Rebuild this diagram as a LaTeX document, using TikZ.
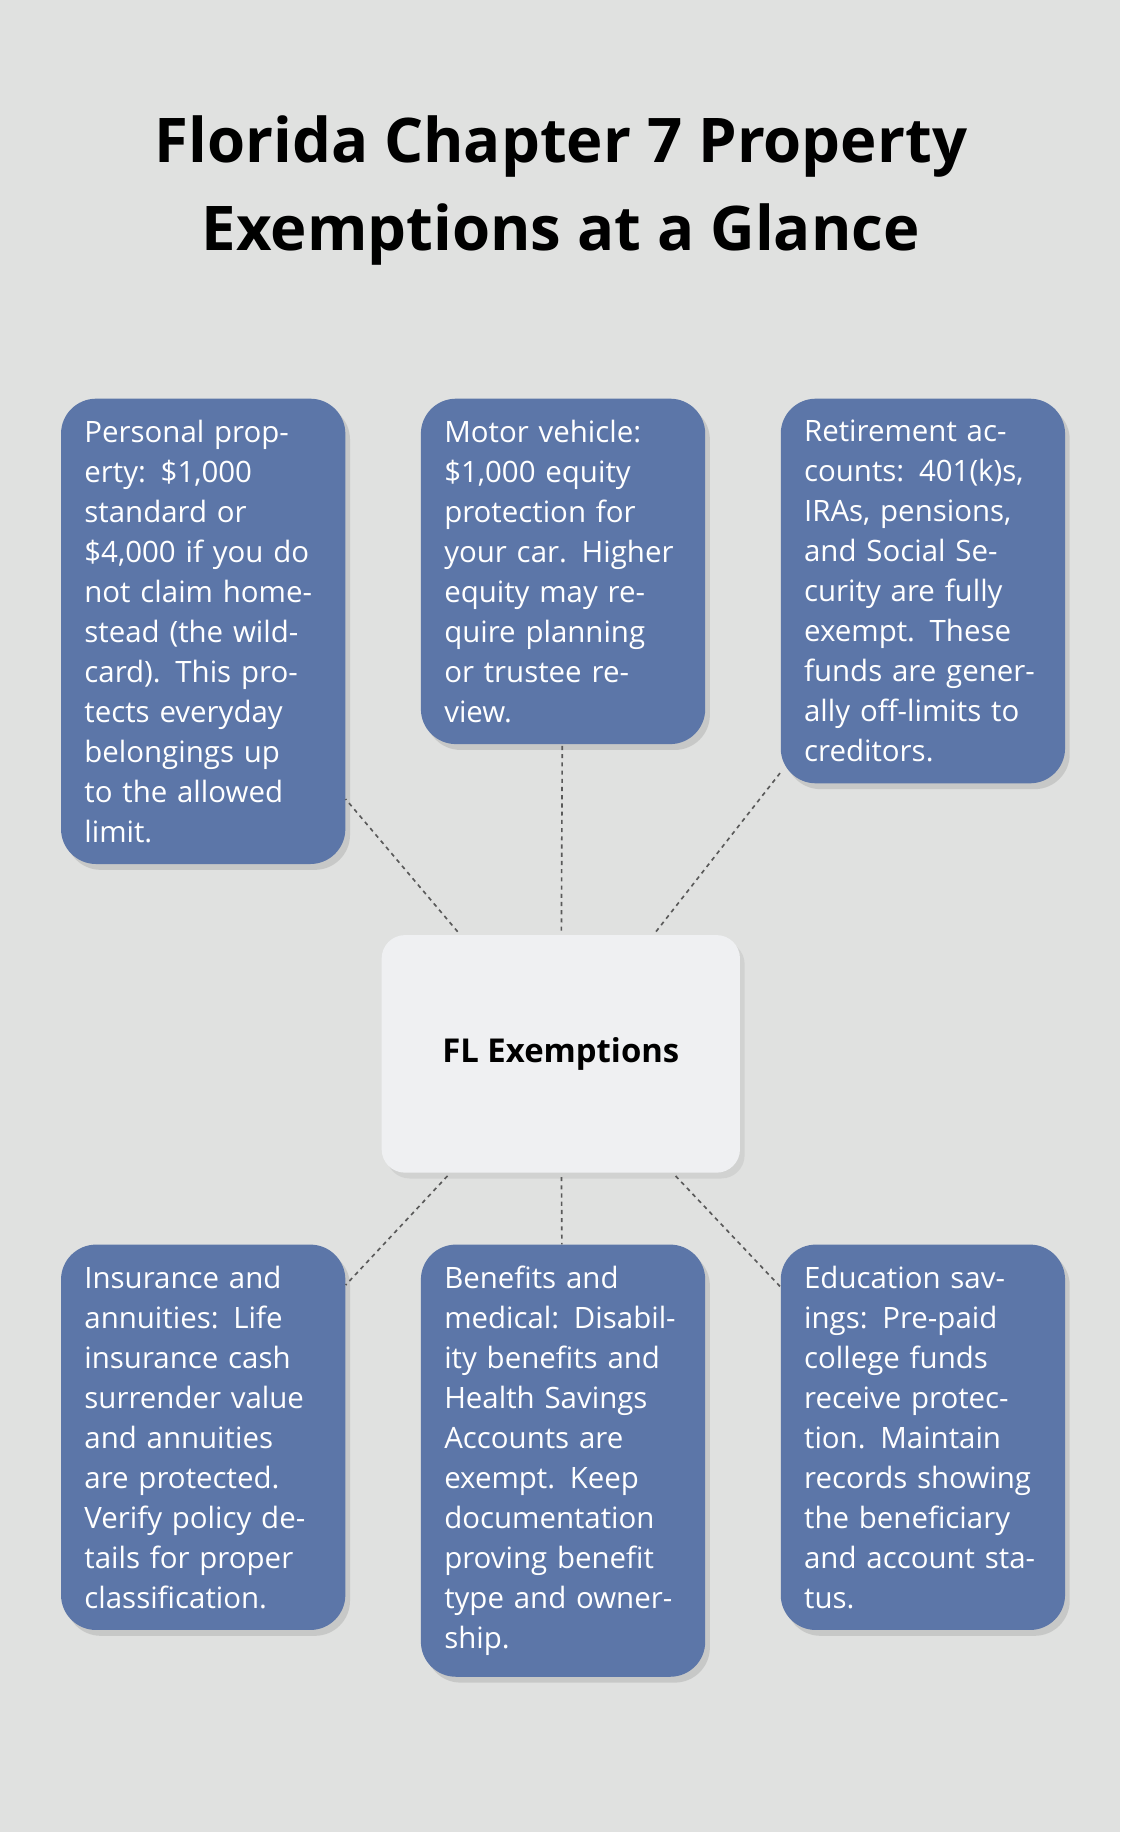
\documentclass[tikz,border=0pt]{standalone}
\usepackage{fontspec}
\setmainfont{Open Sans}
\usetikzlibrary{positioning, shadows}

\definecolor{bgc}{HTML}{E0E1E0}
\definecolor{boxc}{HTML}{5C76A8}
\definecolor{hubc}{HTML}{EFF0F2}

\tikzset{
  item/.style={draw=none, fill=boxc, rounded corners=0.9cm, text=white, anchor=north west,
    text width=6.1cm, align=left, inner xsep=0.6cm, inner ysep=0.55cm,
    font=\fontsize{21.5}{29.2}\selectfont,
    drop shadow={shadow xshift=0.12cm, shadow yshift=-0.15cm, opacity=0.25}},
  hub/.style={fill=hubc, rounded corners=0.6cm, minimum width=9.2cm, minimum height=6.1cm,
    font=\fontsize{24}{29}\selectfont\bfseries,
    drop shadow={shadow xshift=0.12cm, shadow yshift=-0.15cm, opacity=0.15}},
  link/.style={draw=black!65, line width=1.2pt, dash pattern=on 3pt off 3pt}
}

\begin{document}
\begin{tikzpicture}[x=0.03cm, y=-0.03cm]
  \fill[bgc] (0,0) rectangle (959,1568);
  \useasboundingbox (0,0) rectangle (959,1568);

  \node[font=\fontsize{45}{64}\selectfont\bfseries, align=center] (title) at (480,163)
    {Florida Chapter 7 Property\\Exemptions at a Glance};

  \node[hub] (hub) at (480,902) {FL Exemptions};

  \node[item] (pers) at (52,341) {Personal property: \$1,000 standard or \$4,000 if you do not claim homestead (the wildcard). This protects everyday belongings up to the allowed limit.};
  \node[item] (auto) at (360,341) {Motor vehicle: \$1,000 equity protection for your car. Higher equity may require planning or trustee review.};
  \node[item] (ret) at (668,341) {Retirement accounts: 401(k)s, IRAs, pensions, and Social Security are fully exempt. These funds are generally off-limits to creditors.};
  \node[item] (ins) at (52,1065) {Insurance and annuities: Life insurance cash surrender value and annuities are protected. Verify policy details for proper classification.};
  \node[item] (med) at (360,1065) {Benefits and medical: Disability benefits and Health Savings Accounts are exempt. Keep documentation proving benefit type and ownership.};
  \node[item] (edu) at (668,1065) {Education savings: Pre-paid college funds receive protection. Maintain records showing the beneficiary and account status.};

  % dashed spokes
  \foreach \n in {pers, auto, ret, ins, med, edu}
    \draw[link, shorten <=3pt] (hub) -- (\n);
\end{tikzpicture}
\end{document}
